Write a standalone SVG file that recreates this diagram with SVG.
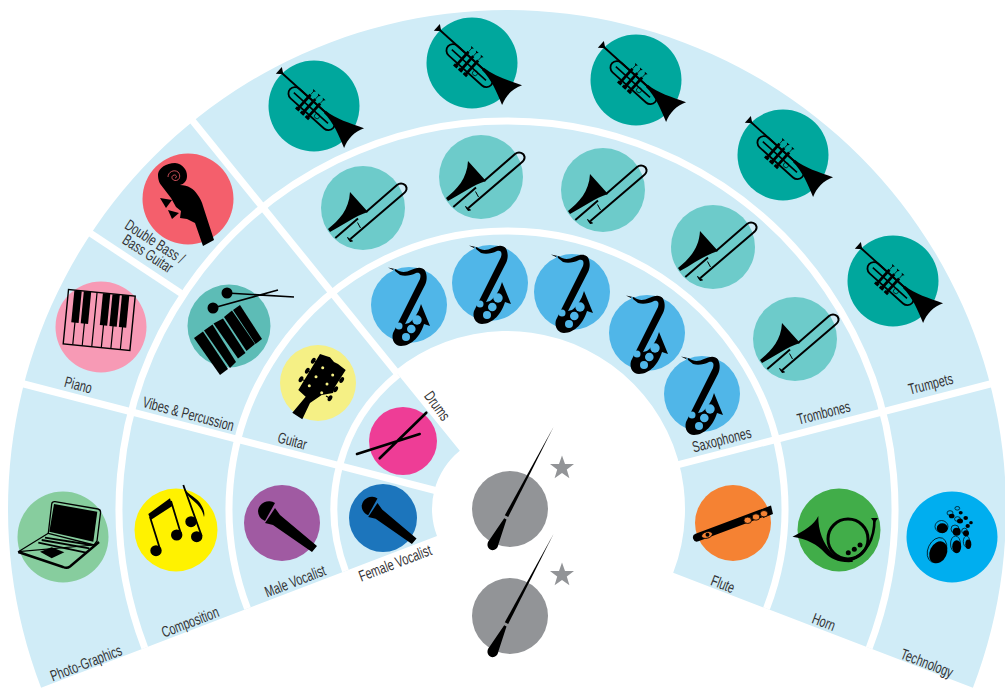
<svg xmlns="http://www.w3.org/2000/svg" width="1005" height="688" viewBox="0 0 1005 688">
<style>
text{font-family:"Liberation Sans",Arial,sans-serif;font-size:15.5px;fill:#333335;text-anchor:middle}
.div{fill:none;stroke:#fff;stroke-width:7}
.ln{fill:none;stroke:#000}
.th{fill:none;stroke:#000;stroke-width:.7}
</style>
<defs>
<g id="trumpet"><g transform="rotate(42) translate(0,-3)">
<polygon points="-50,-4.5 -50,4.5 -44,0"/>
<path class="ln" stroke-width="1.8" d="M-46,0H16"/>
<path d="M12,-1.3C25,-2 38,-8 52,-14C47,-5 47,5 50.4,14C38,8 25,2 12,1.5Z"/>
<rect class="ln" stroke-width="1.8" x="-29" y="0" width="58" height="13" rx="6.5"/>
<path class="ln" stroke-width="1.6" d="M-24,6.5H22"/>
<rect x="-11.5" y="-3" width="2.8" height="18"/><rect x="-5" y="-3" width="2.800" height="18"/><rect x="1.500" y="-3" width="2.800" height="18"/>
<rect x="-12.500" y="14.500" width="4.600" height="3"/><rect x="-6" y="14.500" width="4.600" height="3"/><rect x="0.500" y="14.500" width="4.600" height="3"/>
<path class="ln" stroke-width=".7" d="M-10.100,-3V-8M-3.600,-3V-8M2.900,-3V-8"/>
<path d="M-12,-9H-8.200L-10.100,-7ZM-5.500,-9H-1.700L-3.600,-7ZM1,-9H4.800L2.900,-7Z"/>
<circle class="th" cx="9" cy="8.500" r="2.600"/>
</g></g>
<g id="trombone">
<path d="M-35,21C-24,12 -14,2 -13,-16L5,4C-8,8 -20,17 -33,24Z"/>
<path class="ln" stroke-width="2" d="M3,4L34,-23C38,-26 43,-24 43.500,-20C44,-17 42,-15.500 40,-14L-12.600,31M-27.700,30L-5,10.500"/>
<path class="ln" stroke-width="1" d="M-5.500,14.500L-2.500,20"/>
<path d="M-15.500,29.500L-10.500,33L-13,33.500Z" stroke="#000"/>
</g>
<g id="sax">
<path d="M-21,-37.500L-13,-35.800C-8,-32 -3,-32.500 2,-35C7,-37.500 13,-38.800 16,-34.500C18.500,-29.500 18,-24 16,-20L-4,19L0,18C5,14 9,9 12,-1L21,21L15,19C12,30 3,41 -8,41C-14,41 -18,35 -16,28L11,-26C12.500,-31 10.500,-33 7,-32C2,-29.500 -4,-28.500 -9,-30L-14,-34Z"/>
</g>
<g id="saxkeys"><circle cx="-10" cy="21" r="3.500"/><circle cx="2.300" cy="24" r="4.300"/><circle cx="8" cy="15" r="4.700"/><circle cx="-3" cy="32" r="4"/><circle cx="-15" cy="-35" r="1"/></g>
<g id="mic">
<path d="M-7,-20L-17,-2A11,11 0 0 1 -24,-12A11,11 0 0 1 -7,-20Z"/>
<path d="M-7,-15L-17,0L-9,2L30,29L35,23L-2,-8Z"/>
</g>
<g id="baton">
<path d="M43.500,-82L-1.800,8L-5.200,6.300Z"/>
<path d="M-3.500,10.500L-5.800,9.300L-22,33C-24,38 -20,42 -16,41C-13,40 -12,38 -11.500,35Z"/>
</g>
<polygon id="star" points="0,-12.500 3,-4 12,-4 4.800,1.600 7.400,10.200 0,5 -7.400,10.200 -4.800,1.600 -12,-4 -3,-4"/>
</defs>

<g id="fan">
<path fill="#d0ecf7" d="M41.100,687.800A499,499 0 1 1 972.900,687.800L673.200,572.800A178,178 0 0 0 395,370.700L459.800,450.700A75,75 0 0 0 437,535.900Z"/>
</g>
<g id="connectors">
<path class="div" d="M144.800,648A388,388 0 1 1 869.200,648"/>
<path class="div" d="M247.500,608.600A278,278 0 1 1 766.500,608.600"/>
<path class="div" d="M398.100,374.600A173,173 0 0 0 345.500,571"/>
<path class="div" d="M18.100,382.500L439.200,491.500"/>
<path class="div" d="M671.600,466.400L995.900,382.500"/>
<path class="div" d="M183.400,294.800L85.800,230.200"/>
<path class="div" d="M397.500,373.800L189.200,116.600"/>
</g>

<g id="trumpets">
<g id="trumpet-1"><circle cx="314" cy="106" r="45.500" fill="#00a79d"/><use href="#trumpet" x="314" y="106"/></g>
<g id="trumpet-2"><circle cx="472" cy="63" r="45.500" fill="#00a79d"/><use href="#trumpet" x="472" y="63"/></g>
<g id="trumpet-3"><circle cx="636" cy="80" r="45.500" fill="#00a79d"/><use href="#trumpet" x="636" y="80"/></g>
<g id="trumpet-4"><circle cx="783" cy="155" r="45.500" fill="#00a79d"/><use href="#trumpet" x="783" y="155"/></g>
<g id="trumpet-5"><circle cx="893" cy="281" r="45.500" fill="#00a79d"/><use href="#trumpet" x="893" y="281"/></g>
<text transform="translate(932,389) rotate(-14.500) scale(.7,1)">Trumpets</text>
</g>
<g id="trombones">
<g id="trombone-1"><circle cx="363" cy="208" r="42" fill="#6dcbca"/><use href="#trombone" x="363" y="208"/></g>
<g id="trombone-2"><circle cx="481" cy="177" r="42" fill="#6dcbca"/><use href="#trombone" x="481" y="177"/></g>
<g id="trombone-3"><circle cx="603" cy="190" r="42" fill="#6dcbca"/><use href="#trombone" x="603" y="190"/></g>
<g id="trombone-4"><circle cx="713" cy="247" r="42" fill="#6dcbca"/><use href="#trombone" x="713" y="247"/></g>
<g id="trombone-5"><circle cx="795" cy="339" r="42" fill="#6dcbca"/><use href="#trombone" x="795" y="339"/></g>
<text transform="translate(825,418) rotate(-14.500) scale(.7,1)">Trombones</text>
</g>
<g id="saxophones">
<g id="sax-1"><circle cx="409" cy="305" r="38" fill="#50b6e8"/><use href="#sax" x="409" y="305"/><use href="#saxkeys" x="409" y="305" fill="#50b6e8"/></g>
<g id="sax-2"><circle cx="490" cy="283" r="38" fill="#50b6e8"/><use href="#sax" x="490" y="283"/><use href="#saxkeys" x="490" y="283" fill="#50b6e8"/></g>
<g id="sax-3"><circle cx="572" cy="292" r="38" fill="#50b6e8"/><use href="#sax" x="572" y="292"/><use href="#saxkeys" x="572" y="292" fill="#50b6e8"/></g>
<g id="sax-4"><circle cx="647" cy="333" r="38" fill="#50b6e8"/><use href="#sax" x="647" y="333"/><use href="#saxkeys" x="647" y="333" fill="#50b6e8"/></g>
<g id="sax-5"><circle cx="702" cy="394" r="38" fill="#50b6e8"/><use href="#sax" x="702" y="394"/><use href="#saxkeys" x="702" y="394" fill="#50b6e8"/></g>
<text transform="translate(723,445) rotate(-14.500) scale(.7,1)">Saxophones</text>
</g>

<g id="double-bass" transform="translate(188,199)">
<circle r="45.500" fill="#f45f6c"/>
<path d="M-13,-36C-5,-35 -1,-29 -1,-23C-1,-18 -4,-15 -8,-14C0,-14 6,-10 9,-5C12,-1 14,3 15,7L26,41L15,47L7,24L-1,20L-8,19L-7,12L-12,8L-17,-1L-27,-14C-30,-18 -30,-23 -30,-25C-29,-31 -22,-36 -13,-36Z"/>
<path fill="none" stroke="#f45f6c" stroke-width=".8" d="M-13,-21C-11,-21 -11,-24 -13.500,-24C-17,-24 -17,-19 -13,-18.500C-8,-18 -7,-24 -10,-27C-14,-30 -20,-27 -20,-22"/>
<polygon points="-28,-1 -16,1 -22,9"/><polygon points="-20,11 -9,14 -16,20"/>
<text transform="translate(-36,47) rotate(33) scale(.7,1)">Double Bass /</text>
<text transform="translate(-43,59) rotate(33) scale(.7,1)">Bass Guitar</text>
</g>
<g id="piano" transform="translate(101,327)">
<circle r="45.500" fill="#f79ab5"/>
<g transform="translate(-1.800,-7) rotate(5.600)">
<rect class="ln" stroke-width="1.400" x="-33.500" y="-27.300" width="67" height="54.600"/>
<path class="ln" stroke-width="1.200" d="M-23.900,-27V27M-14.400,-27V27M-4.800,-27V27M4.800,-27V27M14.400,-27V27M23.900,-27V27"/>
<rect x="-27.600" y="-27" width="7.400" height="32"/><rect x="-18.100" y="-27" width="7.400" height="32"/><rect x="1.100" y="-27" width="7.400" height="32"/><rect x="10.700" y="-27" width="7.400" height="32"/><rect x="20.200" y="-27" width="7.400" height="32"/>
</g>
<text transform="translate(-24,63) rotate(15) scale(.7,1)">Piano</text>
</g>
<g id="vibes" transform="translate(229,326)">
<circle r="41.500" fill="#5dbcb6"/>
<polygon points="-35,12 -26,5.500 -1,43 -9,49"/><polygon points="-25,4.500 -16.500,-1.500 7,36 1,42"/><polygon points="-15.500,-2.500 -6,-7.500 16.500,27 9,32.500"/><polygon points="-5,-9 3,-15.500 26,18 17.500,25"/><polygon points="4,-16 11,-21 33,13 26.500,18"/>
<circle cx="-2" cy="-33" r="5.500"/><circle cx="-16" cy="-18" r="5.500"/>
<path class="ln" stroke-width="1.600" d="M-2,-33L65,-29M-16,-18L49,-36"/>
<text transform="translate(-42,93) rotate(15) scale(.7,1)">Vibes &amp; Percussion</text>
</g>
<g id="guitar" transform="translate(318,383)">
<circle r="38" fill="#f5f085"/>
<path class="ln" stroke-width="1.200" d="M-4.700,-22.300L0,-20M-10.700,-12.300L-6,-10M-17,-3.700L-12,-2M23.700,-3L18,-3M17.700,6.300L13,5M12,15.300L8,13"/>
<ellipse cx="-4.700" cy="-22.300" rx="2" ry="3.200" transform="rotate(30 -4.700 -22.300)"/><ellipse cx="-10.700" cy="-12.300" rx="2" ry="3.200" transform="rotate(30 -10.700 -12.300)"/><ellipse cx="-17" cy="-3.700" rx="2" ry="3.200" transform="rotate(30 -17 -3.700)"/><ellipse cx="23.700" cy="-3" rx="2" ry="3.200" transform="rotate(30 23.700 -3)"/><ellipse cx="17.700" cy="6.300" rx="2" ry="3.200" transform="rotate(30 17.700 6.300)"/><ellipse cx="12" cy="15.300" rx="2" ry="3.200" transform="rotate(30 12 15.300)"/>
<path d="M-25.700,29.700L-12.300,13.700L-19.700,7L2,-29L8,-27L12,-25.700L16,-21L20,-19L27.700,-13L17,3.700L15,10L3.700,12L-8,20L-15.700,36.300Z"/>
<g fill="#f5f085"><circle cx="4.700" cy="-15.300" r="1.500"/><circle cx="-2" cy="-6.300" r="1.500"/><circle cx="-8.700" cy="2.700" r="1.500"/><circle cx="14.700" cy="-8" r="1.500"/><circle cx="9" cy="1" r="1.500"/><circle cx="3.700" cy="9.700" r="1.500"/></g>
<text transform="translate(-27,63) rotate(15) scale(.7,1)">Guitar</text>
</g>
<g id="drums" transform="translate(403,441)">
<circle r="34" fill="#ee3d96"/>
<path class="ln" stroke-width="2.600" stroke-linecap="round" d="M23.300,-28.300L-23.300,17.300M16.700,-7L-46,13"/>
<text transform="translate(30,-32) rotate(54) scale(.7,1)">Drums</text>
</g>
<g id="female-vocalist" transform="translate(383,518)">
<circle r="34" fill="#1c75bc"/>
<use href="#mic" transform="translate(1,-1) scale(.93)"/>
<text transform="translate(14,50) rotate(-21) scale(.7,1)">Female Vocalist</text>
</g>
<g id="male-vocalist" transform="translate(282,523)">
<circle r="38" fill="#a05aa2"/>
<use href="#mic"/>
<text transform="translate(15,63) rotate(-21) scale(.7,1)">Male Vocalist</text>
</g>
<g id="composition" transform="translate(176,530)">
<circle r="41.500" fill="#fff200"/>
<polygon points="-27.700,-16 -6,-31.700 -3.700,-24 -25.300,-10"/>
<path class="ln" stroke-width="1.800" d="M-26,-13L-16,19M-5,-29L5,4M7.300,-45L25.700,6"/>
<ellipse cx="-20" cy="20.700" rx="5.700" ry="5.500"/><ellipse cx="0.700" cy="5" rx="5.700" ry="5.500"/><ellipse cx="20.700" cy="6.700" rx="5.700" ry="5.500"/><ellipse cx="15" cy="-8.300" rx="5.700" ry="5.500"/>
<path d="M7,-45C9,-36 19,-34 24,-27C28,-21 29,-17 28,-13C27,-17 25,-22 21,-26C16,-31 10,-35 8,-41Z"/>
<text transform="translate(16,97) rotate(-21) scale(.7,1)">Composition</text>
</g>
<g id="photo-graphics" transform="translate(63,537)">
<circle r="45.500" fill="#87cd9e"/>
<path class="ln" stroke-width="1.300" stroke-linejoin="round" d="M-14.700,-3.700L-11.300,-33C-11,-35 -10,-35.500 -8,-35.300L35,-28C37,-27.500 37.800,-26 37.500,-24L34,4L31,8Z"/>
<path class="ln" stroke-width="1.200" stroke-linejoin="round" d="M-14.700,-3.700L-44.700,14.700L31,8"/>
<path fill="none" stroke="#000" stroke-width="2.400" stroke-linejoin="round" d="M-44.700,15L0,30C3,31.300 5,31 7,29.500L36,5"/>
<polygon points="-9,-33 34.300,-25.300 30.300,4.700 -13.700,-5.300"/>
<path class="ln" stroke-width="1.800" d="M-24.700,5.700L23,15.700M-21.300,3L26.300,11.300M-18,.7L28.700,8"/>
<polygon points="-23,14.700 -11.300,10.300 1.300,15.300 -11.300,21.300"/>
<text transform="translate(25,131) rotate(-21) scale(.7,1)">Photo-Graphics</text>
</g>
<g id="flute" transform="translate(733,523)">
<circle r="38" fill="#f58233"/>
<path class="ln" stroke-width="8" stroke-linecap="round" d="M-36,14.500L28,-9.500"/>
<path d="M28,-13.500L38,-17.500L40,-9L30,-5Z"/>
<g fill="#f58233" stroke="#000" stroke-width=".8"><ellipse cx="14.700" cy="-2.700" rx="3.800" ry="3.200"/><ellipse cx="23" cy="-6" rx="3.800" ry="3.200"/><ellipse cx="31" cy="-9.300" rx="3.800" ry="3.200"/><ellipse cx="-26" cy="12" rx="5.500" ry="3.200" transform="rotate(-15 -26 12)"/></g>
<circle cx="-25.500" cy="11.800" r="2"/>
<text transform="translate(-12,66) rotate(21) scale(.7,1)">Flute</text>
</g>
<g id="horn" transform="translate(839,530)">
<circle r="41.500" fill="#41ad49"/>
<circle class="ln" stroke-width="3" cx="9" cy="9" r="20"/>
<path d="M-46.500,6.700C-35,1 -25,-5 -20.700,-14C-21,0 -16,14 -6,24C0,28 6,29 12,29L14,32C0,33 -8,29 -14,23C-22,14 -32,9 -46.500,6.700Z"/>
<path class="ln" stroke-width="2.600" d="M35.500,-11C35.500,5 30,22 12,30"/>
<polygon points="32,-12 39,-12 35.500,-7"/>
<circle cx="9.300" cy="22.700" r="2.500"/><circle cx="15.300" cy="19.300" r="2.500"/><circle cx="21" cy="15" r="2.500"/>
<text transform="translate(-17,97) rotate(21) scale(.7,1)">Horn</text>
</g>
<g id="technology" transform="translate(952,537)">
<circle r="45.500" fill="#00aeef"/>
<ellipse cx="-13.700" cy="15.300" rx="8.500" ry="11.500" transform="rotate(25 -13.700 15.300)"/>
<ellipse class="th" cx="-15" cy="13" rx="9" ry="13" transform="rotate(25 -15 13)"/>
<ellipse cx="-9.700" cy="-8.700" rx="5.500" ry="5"/><ellipse class="th" cx="-10.500" cy="-10.500" rx="6.500" ry="6"/>
<ellipse cx="4.700" cy="9.700" rx="4.500" ry="6.500"/><ellipse class="th" cx="3.500" cy="7" rx="5" ry="8"/>
<ellipse cx="4.700" cy="-5.300" rx="4" ry="4"/><ellipse class="th" cx="3" cy="-8" rx="4" ry="4"/>
<ellipse cx="16.300" cy="7.300" rx="3" ry="4.800"/><ellipse class="th" cx="14.500" cy="4.500" rx="3.200" ry="5.500"/>
<ellipse cx="14" cy="-3.700" rx="3" ry="3"/><ellipse class="th" cx="12.500" cy="-6" rx="2.800" ry="2.800"/>
<ellipse cx="8" cy="-16" rx="3" ry="2.500"/><ellipse class="th" cx="5.500" cy="-18" rx="3" ry="2.300"/>
<ellipse cx="-.3" cy="-21" rx="2.800" ry="2.300"/><ellipse class="th" cx="-2" cy="-24" rx="3" ry="2.300"/>
<ellipse cx="13.700" cy="-19" rx="2.300" ry="2.100"/><ellipse cx="15.700" cy="-11" rx="2.200" ry="2"/><ellipse cx="19" cy="-14.300" rx="1.800" ry="1.600"/>
<ellipse cx="8.700" cy="-24.300" rx="2" ry="1.800"/><ellipse class="th" cx="5.300" cy="-28.700" rx="2.400" ry="1.800"/>
<text transform="translate(-27,131) rotate(21) scale(.7,1)">Technology</text>
</g>
<g id="conductor-1" transform="translate(510,509)"><circle r="38" fill="#929497"/><use href="#baton"/><use href="#star" x="52" y="-41" fill="#929497"/></g>
<g id="conductor-2" transform="translate(510,616)"><circle r="38" fill="#929497"/><use href="#baton"/><use href="#star" x="52" y="-41" fill="#929497"/></g>
</svg>
